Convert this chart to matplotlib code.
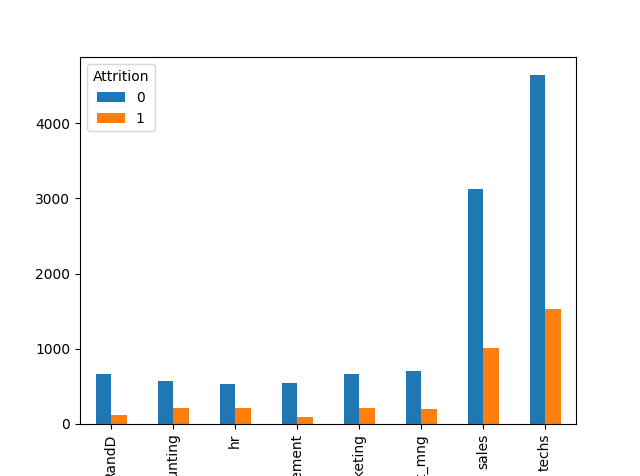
import matplotlib
matplotlib.use("Agg")
import matplotlib.pyplot as plt
import numpy as np

departments = ["RandD", "accounting", "hr", "management", "marketing", "product_mng", "sales", "techs"]
stayed = [666, 563, 524, 539, 655, 704, 3126, 4651]
left = [121, 204, 215, 91, 203, 198, 1014, 1525]

fig, ax = plt.subplots(figsize=(6.4, 4.76), dpi=100)
x = np.arange(len(departments))
w = 0.25
ax.bar(x - w/2, stayed, w, color="#1f77b4", label="0")
ax.bar(x + w/2, left, w, color="#ff7f0e", label="1")
ax.set_xticks(x)
ax.set_xticklabels(departments, rotation=90)
ax.set_xlim(-0.5, len(departments) - 0.5)
ax.legend(title="Attrition", loc="upper left")
fig.savefig("out.png", dpi=100)
